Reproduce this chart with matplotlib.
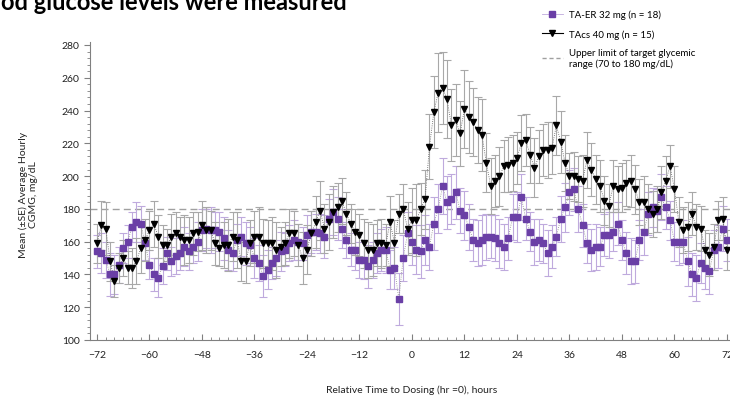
import numpy as np
import matplotlib
matplotlib.use("Agg")
import matplotlib.pyplot as plt
from matplotlib.lines import Line2D
from matplotlib.ticker import MultipleLocator

plt.rcParams['font.family'] = ['Lato', 'DejaVu Sans']

hours = np.arange(-72, 73)

# TA-ER 32 mg (purple squares), hourly means -72..72
tae_mean = [
    154, 153, 149, 140, 140, 146, 156, 160, 169, 172, 171, 159,
    146, 140, 138, 145, 153, 148, 151, 153, 157, 154, 157, 160,
    167, 168, 167, 167, 166, 162, 155, 153, 161, 163, 159, 158,
    150, 147, 139, 143, 147, 150, 154, 155, 159, 161, 160, 159,
    164, 166, 166, 165, 163, 174, 178, 174, 168, 161, 155, 155,
    149, 149, 145, 149, 153, 155, 155, 143, 144, 125, 150, 165,
    160, 155, 154, 161, 157, 171, 180, 194, 184, 186, 190, 179,
    176, 169, 161, 159, 161, 163, 163, 162, 159, 157, 162, 175,
    175, 187, 174, 166, 160, 161, 159, 153, 157, 163, 174, 181,
    190, 192, 180, 170, 159, 155, 157, 157, 164, 164, 166, 171,
    161, 153, 148, 148, 161, 166, 177, 181, 179, 187, 181, 173,
    160, 160, 160, 148, 140, 138, 147, 144, 142, 155, 157, 168,
    161,
]
tae_se = [
    10, 12, 11, 13, 12, 11, 9, 10, 9, 12, 11, 10,
    9, 10, 12, 11, 10, 9, 11, 10, 12, 11, 10, 12,
    13, 12, 14, 11, 12, 13, 12, 11, 10, 12, 13, 11,
    12, 11, 13, 12, 10, 11, 12, 10, 11, 12, 11, 10,
    12, 13, 11, 12, 13, 12, 14, 13, 12, 11, 10, 12,
    11, 12, 13, 11, 12, 13, 14, 12, 13, 16, 14, 13,
    14, 15, 16, 15, 14, 16, 15, 17, 16, 15, 16, 14,
    15, 14, 13, 14, 15, 14, 13, 14, 15, 14, 13, 14,
    15, 14, 13, 12, 14, 13, 12, 14, 13, 12, 14, 15,
    14, 13, 14, 13, 12, 13, 14, 12, 13, 14, 12, 13,
    12, 13, 14, 13, 12, 14, 13, 12, 13, 14, 13, 12,
    12, 14, 13, 15, 13, 14, 12, 13, 14, 12, 13, 14,
    13,
]

# TAcs 40 mg (black triangles)
tacs_mean = [
    159, 170, 168, 148, 136, 144, 150, 144, 144, 148, 156, 161,
    167, 171, 163, 158, 158, 163, 165, 163, 161, 161, 165, 166,
    170, 167, 167, 159, 156, 158, 158, 163, 161, 148, 148, 159,
    163, 163, 159, 159, 159, 155, 157, 159, 165, 165, 158, 150,
    155, 165, 172, 179, 168, 172, 178, 181, 185, 177, 171, 166,
    164, 159, 155, 155, 159, 159, 158, 172, 159, 177, 180, 168,
    173, 173, 180, 186, 218, 239, 251, 254, 247, 231, 234, 226,
    241, 236, 233, 228, 225, 208, 194, 197, 200, 206, 207, 208,
    211, 220, 222, 213, 205, 212, 216, 216, 217, 231, 221, 208,
    200, 200, 198, 197, 210, 204, 198, 194, 185, 182, 194, 192,
    193, 196, 197, 192, 184, 184, 180, 177, 180, 190, 197, 206,
    192, 172, 167, 169, 177, 169, 168, 155, 152, 157, 173, 174,
    155,
]
tacs_se = [
    12, 15, 16, 12, 10, 9, 11, 10, 12, 14, 15, 13,
    12, 14, 13, 12, 10, 14, 13, 12, 15, 14, 13, 12,
    15, 14, 12, 13, 11, 14, 16, 15, 17, 12, 13, 14,
    16, 18, 15, 14, 16, 17, 12, 13, 15, 14, 13, 16,
    15, 14, 16, 18, 15, 17, 16, 15, 14, 13, 12, 14,
    13, 15, 17, 16, 14, 15, 13, 16, 14, 12, 15, 16,
    20, 22, 16, 18, 20, 22, 24, 22, 24, 22, 22, 20,
    24, 22, 21, 20, 22, 18, 17, 16, 18, 16, 17, 17,
    16, 17, 16, 17, 18, 16, 16, 17, 16, 18, 19, 17,
    14, 15, 14, 16, 17, 16, 15, 16, 15, 13, 16, 14,
    15, 14, 16, 15, 14, 16, 15, 14, 14, 16, 15, 13,
    14, 15, 14, 15, 13, 14, 14, 12, 13, 14, 12, 13,
    12,
]

target_upper = 180
xticks = list(range(-72, 73, 12))
yticks = list(range(100, 281, 20))

purple = '#6a3fa6'
lavender = '#bfaadd'

fig = plt.figure(figsize=(7.3, 4.02), dpi=100)
ax = fig.add_axes([90 / 730, 61 / 402, 640 / 730, (341 - 42.7) / 402])

ax.axhline(target_upper, color='#a0a0a0', lw=1.0, ls=(0, (5, 3)), zorder=0)

ax.errorbar(hours, tae_mean, yerr=tae_se, fmt='none', ecolor=lavender,
            elinewidth=0.8, capsize=3, capthick=0.8, zorder=1)
ax.errorbar(hours, tacs_mean, yerr=tacs_se, fmt='none', ecolor='#a8a8a8',
            elinewidth=0.8, capsize=3, capthick=0.8, zorder=1)

ax.plot(hours, tae_mean, ls=':', lw=0.6, color='#888888', zorder=2)
ax.plot(hours, tacs_mean, ls=':', lw=0.6, color='#555555', zorder=2)
ax.plot(hours, tae_mean, 's', ms=4.3, color=purple, mec=purple, zorder=3)
ax.plot(hours, tacs_mean, 'v', ms=5, color='black', zorder=4)

ax.set_xlim(-73.6, 72.7)
ax.set_ylim(100, 282)
ax.set_xticks(xticks)
ax.set_yticks(yticks)
ax.xaxis.set_minor_locator(MultipleLocator(2))
ax.yaxis.set_minor_locator(MultipleLocator(4))
for s in ['top', 'right']:
    ax.spines[s].set_visible(False)
for s in ['left', 'bottom']:
    ax.spines[s].set_color('#808080')
    ax.spines[s].set_linewidth(0.8)
ax.tick_params(axis='both', which='both', colors='#808080', labelcolor='#222222',
               labelsize=7.5)
ax.tick_params(axis='x', which='major', direction='in', length=4, pad=7)
ax.tick_params(axis='x', which='minor', direction='in', length=2)
ax.tick_params(axis='y', which='major', direction='out', length=4)
ax.tick_params(axis='y', which='minor', direction='out', length=2)

fig.text(28 / 730, 1 - 195 / 402, 'Mean (±SE) Average Hourly\nCGMG, mg/dL',
         rotation=90, ha='center', va='center', fontsize=7.5, color='#222222')
fig.text(412 / 730, 1 - 390 / 402, 'Relative Time to Dosing (hr =0), hours',
         ha='center', va='center', fontsize=7.5, color='#222222')

fig.text(0.002, 1 - 10 / 402, 'od glucose levels were measured',
         fontsize=17, fontweight='bold', va='baseline', color='black')

handles = [
    Line2D([], [], color=lavender, lw=0.6, marker='s', ms=4.3,
           mfc=purple, mec=purple),
    Line2D([], [], color='black', lw=0.8, marker='v', ms=5, mfc='black'),
    Line2D([], [], color='#a0a0a0', lw=1.0, ls=(0, (3, 2))),
]
labels = ['TA-ER 32 mg (n = 18)', 'TAcs 40 mg (n = 15)',
          'Upper limit of target glycemic\nrange (70 to 180 mg/dL)']
fig.legend(handles, labels, loc='upper left', bbox_to_anchor=(533 / 730, 1 - 2 / 402),
           frameon=False, fontsize=7, handlelength=2.2, labelspacing=1.0,
           handletextpad=0.6)

fig.savefig('out.png', dpi=100)
